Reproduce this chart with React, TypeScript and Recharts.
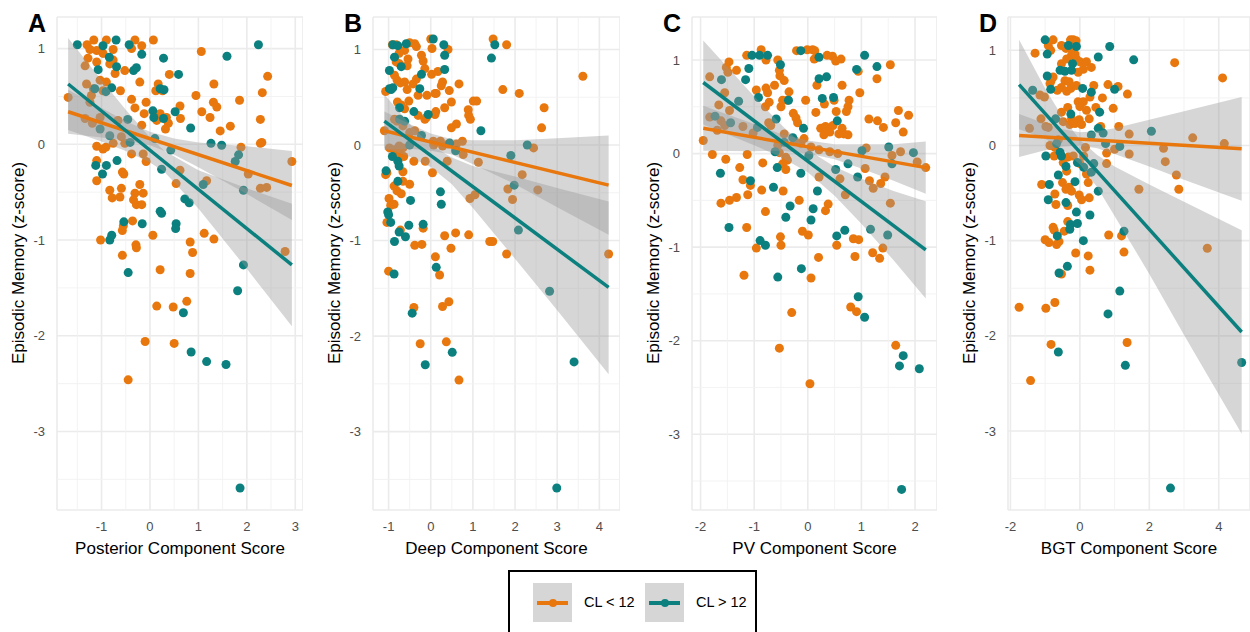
import React from 'react'
import { ComposedChart, Scatter, Area, Line, XAxis, YAxis, CartesianGrid, ReferenceLine } from 'recharts'

const ORANGE = '#E8770E'
const TEAL = '#0B807E'
const FONT = '"Liberation Sans", Arial, Helvetica, sans-serif'

type Pt = number[]

const yTicks = [-3, -2, -1, 0, 1]
const yMinor = [-3.5, -2.5, -1.5, -0.5, 0.5]

// ---- Panel A: Posterior ----
const posteriorLow: Pt[] = [
  [-1.69, 0.49], [-1.34, 0.82], [-1.3, 1.04], [-1.16, 1.09], [-1.1, 0.98], [-1.24, 0.99], [-0.9, 1.09], [-0.76, 0.99], [-0.38, 1.0], [-0.31, 1.09], [-0.17, 1.03], [0.07, 1.09], [1.06, 0.97],
  [-1.28, 0.9], [-1.1, 0.86], [-0.97, 0.95], [-0.83, 0.84], [-0.76, 0.88], [-0.72, 0.74], [-0.52, 0.77], [-0.21, 0.65], [0.4, 0.73], [0.17, 0.63],
  [-1.31, 0.63], [-1.17, 0.58], [-1.03, 0.67], [-0.97, 0.56], [-0.9, 0.65], [-0.61, 0.56], [-0.38, 0.47], [-0.31, 0.38], [-0.08, 0.44], [-0.12, 0.32], [0.12, 0.56], [0.26, 0.56], [0.62, 0.4], [0.95, 0.51], [1.07, 0.34], [1.32, 0.63], [1.31, 0.44], [1.38, 0.39], [1.24, 0.28], [1.45, 0.14], [1.66, 0.19], [1.85, 0.46], [2.43, 0.71], [2.32, 0.54], [2.28, 0.26], [2.28, 0.01], [2.31, 0.02], [2.93, -0.18], [1.88, -0.03],
  [-1.24, 0.44], [-1.21, 0.51],
  [-1.34, 0.27], [-1.19, 0.22], [-1.03, 0.28], [-0.66, 0.25], [-0.59, 0.08], [-0.76, 0.01], [-0.52, 0.01], [-0.38, -0.1], [-0.17, 0.2], [-0.14, -0.1], [-0.08, -0.18], [0.14, 0.25], [0.21, 0.32], [0.34, 0.28], [0.38, 0.22], [0.32, 0.16], [0.63, 0.27], [0.54, -0.41], [0.62, -0.27], [1.17, -0.38], [2.03, -0.31], [2.28, -0.46], [2.41, -0.45], [2.79, -1.12],
  [-1.1, -0.02], [-0.97, -0.05], [-0.91, -0.03], [-1.1, -0.17], [-1.1, -0.38], [-0.57, -0.29], [-0.54, -0.31], [-0.83, -0.48], [-0.78, -0.56], [-0.59, -0.46], [-0.62, -0.55], [-0.21, -0.42], [-0.31, -0.51], [-0.14, -0.51], [-0.34, -0.58], [-0.28, -0.63], [-0.17, -0.63], [-1.02, -1.0], [-0.57, -0.9], [-0.55, -0.85], [-0.36, -0.8], [-0.29, -1.05], [-0.28, -1.08], [-0.57, -1.16], [0.06, -0.95], [0.21, -1.31], [0.83, -1.35], [0.83, -1.02], [0.88, -1.13], [1.12, -0.93], [1.32, -0.99],
  [0.14, -1.69], [0.48, -1.7], [0.76, -1.64], [-0.1, -2.06], [0.5, -2.08], [-0.45, -2.46],
]
const posteriorHigh: Pt[] = [
  [-1.5, 1.04], [-0.97, 1.03], [-0.7, 1.09], [-0.43, 1.04], [-0.17, 0.94], [0.28, 0.9], [1.59, 0.92], [2.24, 1.04], [-1.07, 0.78], [-0.84, 0.91], [-0.69, 0.81], [-0.34, 0.77], [-0.28, 0.8], [0.59, 0.73], [0.21, 0.58], [0.29, 0.57], [-0.79, 0.59], [-1.14, 0.58], [-0.91, 0.55], [0.52, 0.34], [0.06, 0.35], [0.08, 0.28], [0.28, 0.27], [0.84, 0.17], [-0.46, 0.26], [-1.03, 0.16], [-0.83, 0.09], [-0.41, 0.02], [0.1, 0.06], [0.43, -0.06], [1.26, 0.01], [1.48, -0.01], [1.83, -0.11], [1.76, -0.18], [-1.12, -0.22], [-0.9, -0.22], [-0.68, -0.17], [-0.98, -0.31], [0.24, -0.26], [0.72, -0.57], [0.81, -0.61], [1.1, -0.42], [1.93, -0.48], [0.21, -0.7], [0.24, -0.72], [0.54, -0.83], [0.53, -0.88], [-0.54, -0.81], [-0.16, -0.83], [-0.83, -1.0], [-0.79, -0.95], [1.93, -1.26], [-0.45, -1.34], [1.81, -1.53], [0.69, -1.76], [0.85, -2.17], [1.17, -2.27], [1.57, -2.3], [1.86, -3.59],
]
const posteriorLowFit: Pt[] = [[-1.69, 0.34], [2.93, -0.43]]
const posteriorHighFit: Pt[] = [[-1.69, 0.63], [2.93, -1.26]]
const posteriorLowBand: Pt[] = [[-1.69, 0.11, 0.57], [-1, 0.07, 0.38], [-0.5, 0.04, 0.24], [0, -0.01, 0.13], [0.5, -0.11, 0.06], [1, -0.24, 0.02], [2, -0.52, -0.02], [2.93, -0.79, -0.07]]
const posteriorHighBand: Pt[] = [[-1.69, 0.15, 1.11], [-1, 0.03, 0.67], [-0.5, -0.07, 0.36], [0, -0.19, 0.07], [0.3, -0.29, -0.07], [1, -0.67, -0.27], [2, -1.3, -0.46], [2.93, -1.9, -0.62]]

// ---- Panel B: Deep ----
const deepLow: Pt[] = [
  [-0.91, 1.05], [-0.82, 1.05], [-0.5, 1.07], [-0.34, 1.03], [-0.38, 1.06], [0.03, 1.01], [0.0, 1.11], [0.41, 1.0], [1.48, 1.11], [1.8, 1.05],
  [-0.62, 0.99], [-0.75, 0.96], [-0.54, 0.9], [-0.82, 0.87], [-0.74, 0.85], [-0.22, 0.94], [-0.18, 0.88], [-0.14, 0.8], [-0.56, 0.83], [0.02, 0.74], [0.17, 0.77],
  [-0.86, 0.73], [-0.8, 0.68], [-0.72, 0.65], [-0.62, 0.66], [-0.34, 0.69], [-0.42, 0.64], [0.28, 0.66], [0.25, 0.62], [0.67, 0.64], [0.44, 0.57], [0.13, 0.54], [0.1, 0.54], [-0.56, 0.58], [-1.07, 0.56], [-0.3, 0.52], [-0.09, 0.52], [1.71, 0.58], [2.1, 0.54], [3.61, 0.72],
  [-0.79, 0.45], [-0.7, 0.42], [-0.52, 0.46], [-0.62, 0.38], [-0.3, 0.31], [-0.14, 0.27], [-0.1, 0.29], [0.1, 0.32], [0.12, 0.35], [0.33, 0.39], [0.49, 0.45], [1.01, 0.46], [1.09, 0.46], [0.89, 0.37], [0.9, 0.31], [0.94, 0.27], [2.69, 0.39], [2.63, 0.18], [0.49, 0.18], [0.61, 0.22], [-1.1, 0.15],
  [-0.86, 0.27], [-0.8, 0.25], [-0.66, 0.2], [-0.5, 0.13], [-0.38, 0.15],
  [-0.98, -0.03], [-0.86, -0.05], [-0.75, -0.01], [-0.66, -0.03], [-0.74, -0.1], [-0.64, -0.12],
  [0.06, 0.04], [0.07, 0.0], [0.23, 0.04], [0.28, -0.01], [0.41, 0.01], [0.61, 0.01], [0.75, 0.04], [0.77, -0.1], [1.13, -0.18], [-0.4, -0.17], [-0.13, -0.17], [0.39, -0.17], [0.04, -0.29], [2.44, -0.03], [2.17, -0.31], [2.54, -0.47], [1.83, -0.46], [1.94, -0.57], [0.93, -0.56], [1.05, -0.52],
  [-1.07, -0.31], [-1.04, -0.29], [-0.66, -0.28], [-0.66, -0.38], [-0.5, -0.41], [-0.87, -0.43], [-0.8, -0.48], [-0.7, -0.51], [-0.99, -0.56], [-0.95, -0.63], [-0.87, -0.62], [-1.04, -0.81], [-0.72, -0.89], [-0.18, -0.87], [-0.38, -1.05], [-0.21, -1.04], [0.33, -0.95], [0.59, -0.92], [0.9, -0.94], [1.4, -1.01], [1.47, -1.01], [1.8, -1.14], [0.48, -1.08], [0.11, -1.17], [0.21, -1.36], [-1.0, -1.32], [4.22, -1.14],
  [-0.4, -1.7], [0.28, -1.69], [0.43, -1.64], [-0.25, -2.08], [0.37, -2.06], [0.67, -2.46],
]
const deepHigh: Pt[] = [
  [-0.9, 1.05], [-0.78, 1.04], [-0.58, 1.06], [0.06, 1.11], [0.31, 1.05], [0.33, 0.94], [1.52, 1.05], [1.44, 0.91], [-0.86, 0.92], [-0.98, 0.78], [-0.7, 0.82], [0.33, 0.79], [-0.22, 0.74], [-0.98, 0.59], [-0.94, 0.58], [-0.9, 0.6], [-0.26, 0.59], [-0.74, 0.39], [-0.4, 0.35], [-0.06, 0.32], [1.19, 0.15], [-0.74, 0.27], [-0.62, 0.25], [-0.5, 0.0], [-0.22, 0.1], [0.59, -0.06], [0.45, 0.02], [2.29, 0.0], [1.9, -0.11], [1.98, -0.42], [2.08, -0.89], [-0.91, -0.12], [-0.78, -0.17], [-0.75, -0.22], [-1.06, -0.27], [-0.78, -0.38], [-0.48, -0.58], [0.23, -0.49], [0.25, -0.62], [-1.02, -0.7], [-1.0, -0.73], [-0.95, -0.81], [-0.75, -0.91], [-0.6, -0.96], [-0.52, -0.84], [-0.18, -0.83], [-0.86, -1.01], [0.13, -1.28], [-0.87, -1.35], [2.82, -1.53], [-0.44, -1.76], [0.51, -2.17], [-0.13, -2.3], [3.4, -2.27], [2.99, -3.59],
]
const deepLowFit: Pt[] = [[-1.1, 0.15], [4.22, -0.42]]
const deepHighFit: Pt[] = [[-1.1, 0.25], [4.22, -1.49]]
const deepLowBand: Pt[] = [[-1.1, -0.05, 0.35], [-0.5, -0.04, 0.22], [0, -0.06, 0.12], [0.5, -0.1, 0.06], [1, -0.2, 0.05], [2, -0.41, 0.05], [3, -0.65, 0.07], [4.22, -0.94, 0.1]]
const deepHighBand: Pt[] = [[-1.1, -0.03, 0.53], [-0.5, -0.12, 0.22], [0, -0.23, 0.0], [0.5, -0.41, -0.13], [1, -0.66, -0.22], [2, -1.19, -0.33], [3, -1.73, -0.45], [4.22, -2.4, -0.59]]

// ---- Panel C: PV ----
const pvLow: Pt[] = [
  [-0.87, 1.11], [-1.14, 1.05], [-0.78, 1.0], [-0.56, 1.0], [-0.21, 1.1], [-0.01, 1.11], [0.09, 1.11], [0.13, 1.1], [0.12, 1.01], [0.36, 1.05], [0.46, 1.04], [0.52, 0.99], [0.62, 1.01], [-1.47, 0.98], [-1.52, 0.92], [-1.49, 0.87], [-1.33, 0.89], [-1.83, 0.82], [-0.53, 0.89], [-0.52, 0.83], [-0.44, 0.78], [-0.62, 0.73], [-0.78, 0.7], [-0.75, 0.65], [-0.96, 0.68], [-0.35, 0.66], [-0.38, 0.57], [-0.47, 0.57], [-0.5, 0.5], [-0.72, 0.55], [-0.79, 0.5], [-0.04, 0.57], [0.17, 0.73], [0.31, 0.53], [0.15, 0.44], [0.64, 0.73], [0.49, 0.57], [0.77, 0.57], [0.75, 0.5], [0.72, 0.45], [0.53, 0.45], [0.97, 0.65], [0.94, 0.88], [1.54, 0.95], [1.29, 0.8],
  [-1.55, 0.65], [-1.66, 0.52], [-1.46, 0.46], [-1.83, 0.39], [-1.62, 0.35], [-1.55, 0.3], [-1.69, 0.25], [-1.95, 0.14], [-1.21, 0.29], [-1.02, 0.22], [-0.73, 0.33], [-0.69, 0.3], [-0.27, 0.43], [-0.22, 0.38], [-0.19, 0.33], [0.24, 0.27], [0.33, 0.29], [0.47, 0.3], [0.3, 0.2], [0.41, 0.23], [0.58, 0.21], [0.64, 0.27], [0.67, 0.21], [0.75, 0.2], [1.14, 0.37], [1.3, 0.35], [1.41, 0.28], [1.69, 0.46], [1.88, 0.41], [1.64, 0.33], [1.78, 0.23],
  [-0.44, 0.21], [-0.56, 0.09], [-0.53, 0.01], [-0.41, -0.04], [-0.38, -0.07], [-0.47, -0.11], [-0.25, 0.14], [-0.13, 0.11], [-0.07, 0.16], [0.06, 0.07], [0.21, 0.04], [0.41, 0.02], [0.56, 0.0], [1.09, 0.06], [1.57, -0.02], [1.73, 0.02], [2.04, -0.09], [2.2, -0.15], [1.07, -0.16], [1.44, -0.25], [1.36, -0.32],
  [-1.78, -0.01], [-1.53, -0.06], [-1.13, -0.01], [-1.27, -0.15], [-0.84, -0.1], [-0.41, -0.17], [-1.21, -0.28], [-1.07, -0.34], [-1.12, -0.44], [-0.86, -0.39], [-0.46, -0.4], [0.21, -0.25], [0.6, -0.27], [1.15, -0.29], [0.7, -0.44], [1.22, -0.37], [1.54, -0.53], [-1.62, -0.53], [-1.46, -0.5], [-1.33, -0.47], [-0.16, -0.5], [0.38, -0.54], [0.33, -0.61], [-0.79, -0.62], [-1.14, -0.79], [-0.1, -0.83], [0.01, -0.87], [-0.51, -0.89], [-0.5, -0.98], [-0.96, -1.01], [0.54, -0.98], [0.85, -0.91], [0.95, -0.92], [1.4, -1.01], [1.21, -1.06], [1.34, -1.12], [0.88, -1.1], [0.2, -1.11], [-1.19, -1.3], [0.06, -1.33],
  [-0.3, -1.7], [0.8, -1.64], [0.91, -1.69], [-0.53, -2.08], [0.04, -2.46], [1.64, -2.05],
]
const pvHigh: Pt[] = [
  [-1.04, 1.05], [-0.9, 1.05], [-0.75, 1.05], [-0.13, 1.1], [0.21, 1.03], [1.06, 1.05], [1.29, 0.93], [0.91, 0.9], [-0.51, 0.95], [-1.1, 0.91], [-1.61, 0.79], [-1.16, 0.79], [0.21, 0.8], [0.35, 0.82], [-0.92, 0.6], [-0.36, 0.57], [0.27, 0.59], [0.48, 0.6], [-1.29, 0.56], [0.55, 0.35], [-0.59, 0.37], [-0.08, 0.27], [-1.73, 0.4], [-1.44, 0.33], [-0.94, 0.28], [-0.28, 0.17], [-0.61, 0.02], [-0.44, 0.12], [0.02, -0.02], [0.75, -0.11], [1.01, 0.03], [1.51, 0.07], [1.97, 0.01], [1.57, -0.11], [0.52, -0.17], [0.93, -0.25], [-0.13, -0.21], [-0.57, -0.15], [-1.63, -0.21], [-1.07, -0.29], [-0.64, -0.36], [0.18, -0.4], [-0.33, -0.56], [0.1, -0.59], [0.06, -0.71], [-0.41, -0.68], [-1.47, -0.79], [-0.89, -0.93], [-0.79, -0.98], [0.54, -0.88], [0.69, -0.82], [1.17, -0.81], [1.49, -0.87], [-0.12, -1.23], [-0.56, -1.32], [0.94, -1.53], [1.06, -1.75], [1.78, -2.16], [1.71, -2.27], [2.08, -2.3], [1.75, -3.59],
]
const pvLowFit: Pt[] = [[-1.95, 0.27], [2.2, -0.15]]
const pvHighFit: Pt[] = [[-1.95, 0.76], [2.2, -1.03]]
const pvLowBand: Pt[] = [[-1.95, 0.03, 0.51], [-1, 0.025, 0.315], [-0.5, 0.03, 0.21], [0, 0.0, 0.14], [0.5, -0.06, 0.1], [1, -0.16, 0.1], [1.6, -0.29, 0.1], [2.2, -0.43, 0.13]]
const pvHighBand: Pt[] = [[-1.95, 0.31, 1.21], [-1, 0.09, 0.61], [-0.5, -0.04, 0.31], [0, -0.2, 0.04], [0.5, -0.45, -0.14], [1, -0.75, -0.27], [1.6, -1.14, -0.4], [2.2, -1.55, -0.51]]

// ---- Panel D: BGT ----
const bgtLow: Pt[] = [
  [-1.29, 0.97], [-0.77, 1.11], [-0.91, 1.05], [-0.84, 1.0], [-0.53, 1.05], [-0.4, 1.02], [-0.27, 1.11], [-0.19, 1.11], [-0.11, 1.1], [-0.21, 1.0], [-0.24, 0.95], [-0.14, 0.96], [-0.1, 0.91], [-0.53, 0.86], [-0.38, 0.91], [0.0, 0.88], [0.19, 0.88], [0.33, 0.82], [0.1, 0.8], [-0.05, 0.77], [2.73, 0.87], [4.11, 0.71],
  [-0.77, 0.72], [-0.83, 0.68], [-0.86, 0.65], [-0.43, 0.68], [-0.31, 0.67], [-0.53, 0.61], [-0.65, 0.58], [-0.38, 0.57], [-0.26, 0.6], [-0.1, 0.63], [0.4, 0.63], [0.81, 0.64], [1.1, 0.62], [1.37, 0.54], [-1.15, 0.53], [-1.02, 0.51], [-0.05, 0.46], [0.1, 0.46], [0.0, 0.41], [0.19, 0.37], [0.29, 0.51], [0.65, 0.5], [0.96, 0.39], [0.46, 0.4], [-0.35, 0.4], [-0.53, 0.35], [-0.24, 0.28], [-0.02, 0.27], [0.27, 0.28], [-1.12, 0.28], [-0.98, 0.2], [-0.91, 0.19], [-1.45, 0.18], [-0.48, 0.25], [-0.29, 0.22], [-0.14, 0.23], [0.05, 0.22], [0.6, 0.2], [1.12, 0.2], [1.42, 0.12], [3.25, 0.08], [4.16, 0.02], [2.41, -0.03], [2.46, -0.17], [2.78, -0.31], [2.85, -0.46], [1.7, -0.46],
  [-0.86, 0.0], [-0.72, -0.02], [-0.62, 0.06], [-0.74, -0.11], [-0.48, -0.18], [-0.38, -0.27], [-0.33, -0.12], [-0.19, -0.11], [0.11, -0.11], [0.16, -0.02], [0.77, -0.08], [0.77, -0.19], [1.0, -0.04], [1.42, -0.09], [0.19, -0.3], [0.24, -0.39], [0.0, -0.19], [-1.1, -0.41], [-0.72, -0.51], [-0.69, -0.62], [-0.5, -0.39], [-0.4, -0.46], [-0.31, -0.44], [-0.24, -0.48], [-0.35, -0.63], [-0.02, -0.52], [0.05, -0.57], [0.27, -0.55], [-0.35, -0.8], [-0.77, -0.86], [-0.74, -0.89], [-0.45, -0.9], [-1.0, -0.99], [-0.89, -1.02], [-0.67, -1.04], [-0.6, -1.01], [0.83, -0.94], [1.2, -0.95], [1.27, -1.12], [-0.12, -1.13], [0.24, -1.16], [0.29, -1.31], [-0.53, -1.35], [3.67, -1.08],
  [-1.75, -1.7], [-0.98, -1.71], [-0.72, -1.65], [-0.83, -2.09], [1.36, -2.07], [-1.42, -2.47],
]
const bgtHigh: Pt[] = [
  [-1.0, 1.11], [-0.94, 0.96], [-0.33, 1.05], [-0.1, 1.04], [0.86, 1.04], [0.53, 0.93], [1.55, 0.9], [-0.21, 0.86], [-0.57, 0.79], [-0.43, 0.78], [-0.24, 0.79], [-0.94, 0.73], [-0.84, 0.59], [-1.36, 0.58], [0.08, 0.6], [0.33, 0.56], [1.0, 0.59], [0.57, 0.35], [-0.26, 0.33], [-0.7, 0.28], [0.53, 0.18], [0.33, 0.11], [0.67, 0.13], [2.06, 0.15], [0.74, 0.02], [1.15, -0.01], [-0.67, 0.02], [-0.57, -0.07], [-0.53, -0.11], [-0.98, -0.11], [-0.07, -0.18], [0.11, -0.23], [0.4, -0.19], [-0.4, -0.22], [0.33, -0.28], [0.53, -0.48], [-0.62, -0.31], [-0.14, -0.38], [-0.88, -0.41], [-0.91, -0.57], [-0.4, -0.6], [-0.1, -0.7], [0.29, -0.73], [-0.27, -0.83], [-0.07, -0.82], [-0.29, -0.88], [1.27, -0.9], [-0.65, -0.95], [0.1, -1.0], [-0.36, -1.27], [-0.6, -1.34], [1.15, -1.53], [0.81, -1.77], [-0.62, -2.17], [1.31, -2.31], [4.66, -2.28], [2.61, -3.6],
]
const bgtLowFit: Pt[] = [[-1.75, 0.105], [4.66, -0.035]]
const bgtHighFit: Pt[] = [[-1.75, 0.64], [4.66, -1.96]]
const bgtLowBand: Pt[] = [[-1.75, -0.12, 0.33], [-1, -0.05, 0.23], [-0.5, -0.01, 0.17], [0, 0.0, 0.14], [0.5, -0.03, 0.15], [1, -0.09, 0.18], [2, -0.22, 0.27], [3, -0.36, 0.36], [4.66, -0.58, 0.51]]
const bgtHighBand: Pt[] = [[-1.75, 0.17, 1.11], [-1, 0.07, 0.6], [-0.5, -0.04, 0.3], [0, -0.2, 0.06], [0.5, -0.44, -0.1], [1, -0.74, -0.22], [2, -1.35, -0.41], [3, -1.99, -0.59], [4.66, -3.03, -0.89]]

const toPts = (arr: Pt[]) => arr.map(([x, y]) => ({ x, y }))
const toBand = (arr: Pt[]) => arr.map(([x, lo, hi]) => ({ x, band: [lo, hi] }))

const dot = (color: string) => (props: any) => <circle cx={props.cx} cy={props.cy} r={4.5} fill={color} />

const tickStyle = { fill: '#4D4D4D', fontSize: 13, fontFamily: FONT }

type PanelProps = {
  letter: string
  title: string
  plotLeft: number
  plotRight: number
  xDomain: number[]
  yDomain: number[]
  xTicks: number[]
  xMinor: number[]
  low: Pt[]
  high: Pt[]
  lowFit: Pt[]
  highFit: Pt[]
  lowBand: Pt[]
  highBand: Pt[]
}

function Panel(p: PanelProps) {
  const axisW = 45
  const left = p.plotLeft - axisW
  const width = p.plotRight - left
  return (
    <>
      <div style={{ position: 'absolute', left: p.plotLeft - 29, top: 9, fontSize: 25, fontWeight: 'bold', fontFamily: FONT, lineHeight: 1.15 }}>
        {p.letter}
      </div>
      <div style={{ position: 'absolute', left, top: 0 }}>
        <ComposedChart width={width} height={560} margin={{ top: 17, right: 0, bottom: 0, left: 0 }}>
          <CartesianGrid stroke="#EBEBEB" strokeWidth={1.6} />
          {p.xMinor.map(v => (
            <ReferenceLine key={'mx' + v} x={v} stroke="#F2F2F2" strokeWidth={0.9} zIndex={-90} />
          ))}
          {yMinor.map(v => (
            <ReferenceLine key={'my' + v} y={v} stroke="#F2F2F2" strokeWidth={0.9} zIndex={-90} />
          ))}
          <XAxis type="number" dataKey="x" domain={p.xDomain} ticks={p.xTicks} interval={0} allowDataOverflow
            axisLine={false} tickLine={false} tickMargin={6} height={50} tick={tickStyle} />
          <YAxis type="number" dataKey="y" domain={p.yDomain} ticks={yTicks} interval={0} allowDataOverflow
            axisLine={false} tickLine={false} tickMargin={6} width={axisW} tick={tickStyle} />
          <Scatter data={toPts(p.low)} fill={ORANGE} shape={dot(ORANGE)} isAnimationActive={false} zIndex={50} />
          <Scatter data={toPts(p.high)} fill={TEAL} shape={dot(TEAL)} isAnimationActive={false} zIndex={50} />
          <Area data={toBand(p.lowBand)} dataKey="band" type="linear" stroke="none" fill="#999999" fillOpacity={0.4}
            isAnimationActive={false} zIndex={100} />
          <Area data={toBand(p.highBand)} dataKey="band" type="linear" stroke="none" fill="#999999" fillOpacity={0.4}
            isAnimationActive={false} zIndex={100} />
          <Line data={toPts(p.lowFit)} dataKey="y" type="linear" stroke={ORANGE} strokeWidth={3.5} dot={false}
            isAnimationActive={false} zIndex={400} />
          <Line data={toPts(p.highFit)} dataKey="y" type="linear" stroke={TEAL} strokeWidth={3.5} dot={false}
            isAnimationActive={false} zIndex={400} />
        </ComposedChart>
      </div>
      <div style={{
        position: 'absolute', left: p.plotLeft - 39, top: 263, transform: 'translate(-50%, -50%) rotate(-90deg)',
        whiteSpace: 'nowrap', fontSize: 17, fontFamily: FONT, lineHeight: 1,
      }}>
        Episodic Memory (z-score)
      </div>
      <div style={{
        position: 'absolute', left: (p.plotLeft + p.plotRight) / 2, top: 548, transform: 'translate(-50%, -50%)',
        whiteSpace: 'nowrap', fontSize: 17, fontFamily: FONT, lineHeight: 1,
      }}>
        {p.title}
      </div>
    </>
  )
}

function LegendKey({ color, label, left }: { color: string; label: string; left: number }) {
  return (
    <div style={{ position: 'absolute', left, top: 583 }}>
      <div style={{ position: 'relative', width: 39, height: 39, background: '#D6D6D6' }}>
        <div style={{ position: 'absolute', left: 4, width: 31, top: 17.5, height: 4, background: color }} />
        <div style={{ position: 'absolute', left: 15.5, top: 15.5, width: 8, height: 8, borderRadius: '50%', background: color }} />
      </div>
      <div style={{
        position: 'absolute', left: 51, top: 19, transform: 'translateY(-50%)', whiteSpace: 'nowrap',
        fontSize: 14.5, fontFamily: FONT, lineHeight: 1,
      }}>
        {label}
      </div>
    </div>
  )
}

export default function App() {
  return (
    <div style={{ position: 'absolute', left: 0, top: 0, width: 1250, height: 632, overflow: 'hidden', background: '#fff' }}>
      <Panel letter="A" title="Posterior Component Score" plotLeft={57} plotRight={303}
        xDomain={[-1.92, 3.16]} yDomain={[-3.82, 1.33]} xTicks={[-1, 0, 1, 2, 3]} xMinor={[-1.5, -0.5, 0.5, 1.5, 2.5]}
        low={posteriorLow} high={posteriorHigh} lowFit={posteriorLowFit} highFit={posteriorHighFit}
        lowBand={posteriorLowBand} highBand={posteriorHighBand} />
      <Panel letter="B" title="Deep Component Score" plotLeft={373} plotRight={620}
        xDomain={[-1.37, 4.49]} yDomain={[-3.82, 1.34]} xTicks={[-1, 0, 1, 2, 3, 4]} xMinor={[-0.5, 0.5, 1.5, 2.5, 3.5]}
        low={deepLow} high={deepHigh} lowFit={deepLowFit} highFit={deepHighFit}
        lowBand={deepLowBand} highBand={deepHighBand} />
      <Panel letter="C" title="PV Component Score" plotLeft={692} plotRight={937}
        xDomain={[-2.16, 2.41]} yDomain={[-3.81, 1.46]} xTicks={[-2, -1, 0, 1, 2]} xMinor={[-1.5, -0.5, 0.5, 1.5]}
        low={pvLow} high={pvHigh} lowFit={pvLowFit} highFit={pvHighFit}
        lowBand={pvLowBand} highBand={pvHighBand} />
      <Panel letter="D" title="BGT Component Score" plotLeft={1008} plotRight={1250}
        xDomain={[-2.07, 4.9]} yDomain={[-3.83, 1.35]} xTicks={[-2, 0, 2, 4]} xMinor={[-1, 1, 3]}
        low={bgtLow} high={bgtHigh} lowFit={bgtLowFit} highFit={bgtHighFit}
        lowBand={bgtLowBand} highBand={bgtHighBand} />

      <div style={{ position: 'absolute', left: 508, top: 570, width: 249, height: 80, border: '2px solid #000', boxSizing: 'border-box' }} />
      <LegendKey color={ORANGE} label="CL < 12" left={533} />
      <LegendKey color={TEAL} label="CL > 12" left={645} />
    </div>
  )
}
